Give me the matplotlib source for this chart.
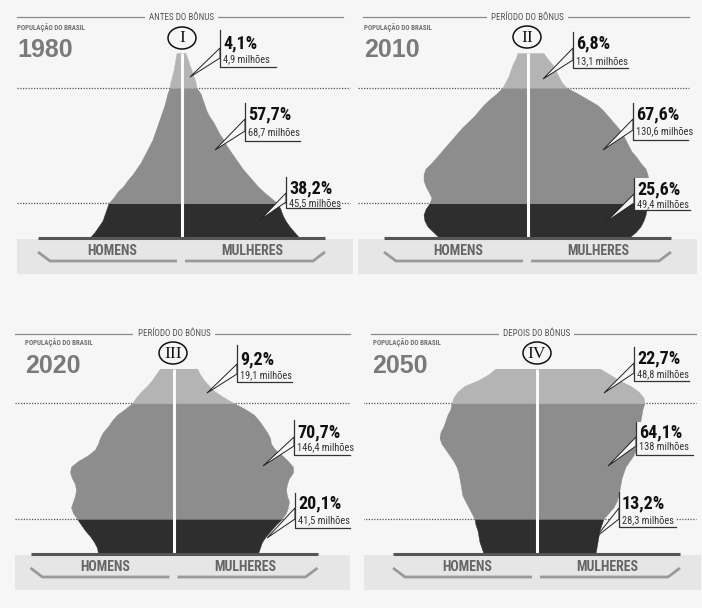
import matplotlib
matplotlib.use("Agg")
import matplotlib.pyplot as plt
import numpy as np
from matplotlib import font_manager as fm
from matplotlib.patches import Rectangle, Ellipse, Polygon

# ---------------- data ----------------
AGES = [0, 2.5, 5, 7.5, 10, 12.5, 15, 17.5, 20, 22.5, 25, 27.5, 30, 32.5, 35, 37.5,
        40, 42.5, 45, 47.5, 50, 52.5, 55, 57.5, 60, 62.5, 65, 67.5, 70, 72.5, 75, 77.5, 80]

homens_1980 = [92, 87, 83, 79, 77, 75, 73, 68, 64, 58, 54, 49, 45, 41, 38, 35,
               32, 29, 27, 25, 23, 21, 19, 17, 15.5, 14, 12, 11, 9.5, 8, 7, 6, 5]
mulheres_1980 = [118, 113, 108, 104, 101, 99, 96, 89, 82, 76, 71, 66, 61, 57, 53, 49,
                 45, 42, 38, 35, 32, 28, 25, 23, 21, 19, 15, 14, 12, 10, 8, 6, 4]

homens_2010 = [88, 94, 100, 103, 104, 102, 98, 96, 99, 102, 104, 104, 102, 96, 91, 86,
               81, 76, 71, 66, 60, 54, 49, 44, 38, 31, 25, 22, 19, 17, 15, 12, 10]
mulheres_2010 = [101, 108, 113, 116, 118, 119, 119, 119, 120, 121, 121, 120, 118, 113, 109, 104,
                 101, 98, 95, 91, 86, 81, 76, 70, 60, 50, 39, 34, 31, 28, 25, 20, 16]

homens_2020 = [76, 77, 80, 84, 89, 93, 97, 101, 103, 101, 99, 98, 99, 102, 104, 103,
               96, 86, 79, 76, 74, 71, 66, 62, 57, 49, 42, 38, 33, 27, 22, 18, 14]
mulheres_2020 = [84, 86, 88, 92, 97, 102, 108, 112, 114, 115, 113, 112, 113, 115, 119, 119,
                 114, 108, 101, 97, 96, 93, 89, 85, 80, 71, 60, 50, 41, 35, 30, 26, 23]

homens_2050 = [53, 55, 57, 58, 59, 61, 62, 65, 68, 71, 74, 75, 76, 77, 78, 80,
               83, 87, 91, 95, 97, 96, 93, 91, 89, 86, 85, 83, 79, 72, 58, 48, 41]
mulheres_2050 = [59, 60, 61, 62, 63, 65, 67, 72, 77, 80, 82, 83, 84, 85, 87, 89,
                 93, 97, 100, 101, 102, 103, 103, 104, 105, 106, 108, 107, 102, 94, 82, 73, 63]

ANOS = ["1980", "2010", "2020", "2050"]
FASES = ["ANTES DO BÔNUS", "PERÍODO DO BÔNUS", "PERÍODO DO BÔNUS", "DEPOIS DO BÔNUS"]
NUMERAIS = ["I", "II", "III", "IV"]
HOMENS = [homens_1980, homens_2010, homens_2020, homens_2050]
MULHERES = [mulheres_1980, mulheres_2010, mulheres_2020, mulheres_2050]

pct_idosos = [4.1, 6.8, 9.2, 22.7]
mi_idosos = [4.9, 13.1, 19.1, 48.8]
pct_ativos = [57.7, 67.6, 70.7, 64.1]
mi_ativos = [68.7, 130.6, 146.4, 138]
pct_jovens = [38.2, 25.6, 20.1, 13.2]
mi_jovens = [45.5, 49.4, 41.5, 28.3]

# ---------------- styling / layout ----------------
W, H = 702, 608
BG = "#f6f6f6"
BAND = "#e6e6e6"
COL_YOUNG, COL_WORK, COL_OLD = "#2e2e2e", "#8d8d8d", "#b4b4b4"

names = {f.name for f in fm.fontManager.ttflist}
NARROW_KW = {}
for cand in ["Liberation Sans Narrow", "Roboto Condensed", "Open Sans Condensed"]:
    if cand in names:
        NARROW_KW = {"family": cand}
        break
if not NARROW_KW:
    NARROW_KW = {"family": "DejaVu Sans", "fontstretch": "condensed"}
SERIF = "Liberation Serif" if "Liberation Serif" in names else "DejaVu Serif"
BOLDSANS = "Liberation Sans" if "Liberation Sans" in names else "DejaVu Sans"

PANELS = [
    dict(cx=181.5, base=238, band=(17, 353, 239, 274), head_y=17, head=(17, 343),
         dots=(17, 350), title=(17, 28), year=(17, 50), circ=(182, 38)),
    dict(cx=527.5, base=238, band=(358, 697, 239, 274), head_y=17, head=(363, 689),
         dots=(358, 689), title=(364, 28), year=(364, 50), circ=(527, 37)),
    dict(cx=174, base=553.5, band=(15, 350, 555, 590), head_y=334, head=(15, 350),
         dots=(15, 350), title=(25, 343), year=(25, 366), circ=(173, 353)),
    dict(cx=536.5, base=553.5, band=(364, 701, 555, 590), head_y=334, head=(371, 696),
         dots=(360, 696), title=(373, 343), year=(372, 366), circ=(537, 353)),
]
# callout boxes: (vline x, top y, bottom y, underline end x, pct y, sub y, tip)
CALLOUTS = [
    [(220, 30, 67, 276, 43, 59, (190, 77)),
     (245, 103, 141, 300, 114, 132, (215, 150)),
     (286, 177, 208, 340, 188, 203, (260, 220))],
    [(573, 32, 68, 628, 43, 61, (543, 79)),
     (633, 103, 140, 688, 114, 131, (603, 150)),
     (634, 178, 210, 690, 189, 204, (606, 222))],
    [(237, 345, 382, 292, 359, 375, (207, 393)),
     (294, 420, 455, 350, 432, 447, (263, 466)),
     (295, 493, 528, 350, 503, 520, (267, 538))],
    [(634, 347, 381, 689, 358, 374, (604, 393)),
     (636, 422, 455, 693, 432, 447, (608, 466)),
     (619, 492, 527, 676, 503, 520, (596, 537))],
]
PYR_H = 185  # pixel height of ages 0..80


def fmt(v, pct=False):
    s = f"{v:g}".replace(".", ",")
    return s + "%" if pct else s + " milhões"


fig = plt.figure(figsize=(W / 100, H / 100), dpi=100, facecolor=BG)

bg = fig.add_axes([0, 0, 1, 1], zorder=0)
bg.set_xlim(0, W); bg.set_ylim(H, 0); bg.axis("off")
bg.set_facecolor(BG)
fg = fig.add_axes([0, 0, 1, 1], zorder=3)
fg.set_xlim(0, W); fg.set_ylim(H, 0); fg.axis("off")
fg.patch.set_alpha(0)


def pix_rect(x0, x1, y0, y1):
    return [x0 / W, 1 - y1 / H, (x1 - x0) / W, (y1 - y0) / H]


for i, p in enumerate(PANELS):
    cx, base = p["cx"], p["base"]
    bx0, bx1, by0, by1 = p["band"]

    # gray band with HOMENS / MULHERES
    bg.add_patch(Rectangle((bx0, by0), bx1 - bx0, by1 - by0, color=BAND, lw=0, zorder=1))
    bg.plot([cx - 143.5, cx - 131.5, cx - 4.5], [by0 + 13, by0 + 22, by0 + 22],
            color="#9a9a9a", lw=2, solid_capstyle="butt", zorder=2)
    bg.plot([cx + 3.5, cx + 131.5, cx + 143.5], [by0 + 22, by0 + 22, by0 + 13],
            color="#9a9a9a", lw=2, solid_capstyle="butt", zorder=2)
    bg.text(cx - 69, by0 + 12, "HOMENS", ha="center", va="center", fontsize=10,
            fontweight="bold", color="#666666", **NARROW_KW)
    bg.text(cx + 71, by0 + 12, "MULHERES", ha="center", va="center", fontsize=10,
            fontweight="bold", color="#666666", **NARROW_KW)

    # header
    hy = p["head_y"]
    bg.plot(p["head"], [hy, hy], color="#8a8a8a", lw=0.9, zorder=2)
    bg.text(cx, hy, FASES[i], ha="center", va="center", fontsize=6.5, color="#555555",
            bbox=dict(facecolor=BG, edgecolor="none", pad=3), zorder=3, **NARROW_KW)
    bg.text(p["title"][0], p["title"][1], "POPULAÇÃO DO BRASIL", ha="left", va="center",
            fontsize=5, fontweight="bold", color="#707070", **NARROW_KW)
    bg.text(p["year"][0], p["year"][1], ANOS[i], ha="left", va="center", fontsize=18,
            fontweight="bold", color="#7a7a7a", family=BOLDSANS)

    # pyramid axes: x in pixels relative to centre, y in years of age
    ax = fig.add_axes(pix_rect(bx0, bx1, base - PYR_H, base), zorder=1)
    ax.set_xlim(bx0 - cx, bx1 - cx)
    ax.set_ylim(0, 80)
    ax.axis("off")
    ax.patch.set_alpha(0)
    d0, d1 = p["dots"]
    ax.hlines([15, 65], d0 - cx, d1 - cx, colors="#555555", lw=0.9,
              linestyles=(0, (1, 1.2)), zorder=1)
    a = np.array(AGES)
    m = np.array(HOMENS[i], dtype=float)
    w = np.array(MULHERES[i], dtype=float)
    for (lo, hi), col in zip([(0, 15), (15, 65), (65, 80)], [COL_YOUNG, COL_WORK, COL_OLD]):
        sel = (a >= lo) & (a <= hi)
        ax.fill_betweenx(a[sel], -m[sel], 0, color=col, lw=0.3, edgecolor=col, zorder=2)
        ax.fill_betweenx(a[sel], 0, w[sel], color=col, lw=0.3, edgecolor=col, zorder=2)
    ax.vlines(0, 0, 80, colors="#fbfbfb", lw=2.2, zorder=3)
    ax.hlines(0, -143.5, 143.5, colors="#555555", lw=2.2, zorder=4, clip_on=False)

    # roman numeral
    fg.add_patch(Ellipse(p["circ"], 28, 22, facecolor="none", edgecolor="#111111", lw=1.1))
    fg.text(p["circ"][0], p["circ"][1] + 0.5, NUMERAIS[i], ha="center", va="center",
            fontsize=12.5, color="#111111", family=SERIF)

    # callouts
    labels = [(pct_idosos[i], mi_idosos[i]), (pct_ativos[i], mi_ativos[i]),
              (pct_jovens[i], mi_jovens[i])]
    for (pv, mv), (vx, y0, y1, ux, py, sy, tip) in zip(labels, CALLOUTS[i]):
        fg.add_patch(Rectangle((vx, y0), ux - vx, y1 - y0, facecolor=BG, edgecolor="none",
                               zorder=1))
        fg.add_patch(Polygon([(vx, py + 5), tip, (vx, sy - 1)], closed=True,
                             facecolor=BG, edgecolor="#222222", lw=0.7, zorder=2))
        fg.plot([vx, vx, ux], [y0, y1, y1], color="#333333", lw=0.9, zorder=3)
        fg.text(vx + 3, py, fmt(pv, True), ha="left", va="center", fontsize=13,
                fontweight="bold", color="#111111", zorder=4, **NARROW_KW)
        fg.text(vx + 3, sy, fmt(mv), ha="left", va="center", fontsize=7.5,
                color="#333333", zorder=4, **NARROW_KW)

fig.savefig("out.png", dpi=100, facecolor=BG)
